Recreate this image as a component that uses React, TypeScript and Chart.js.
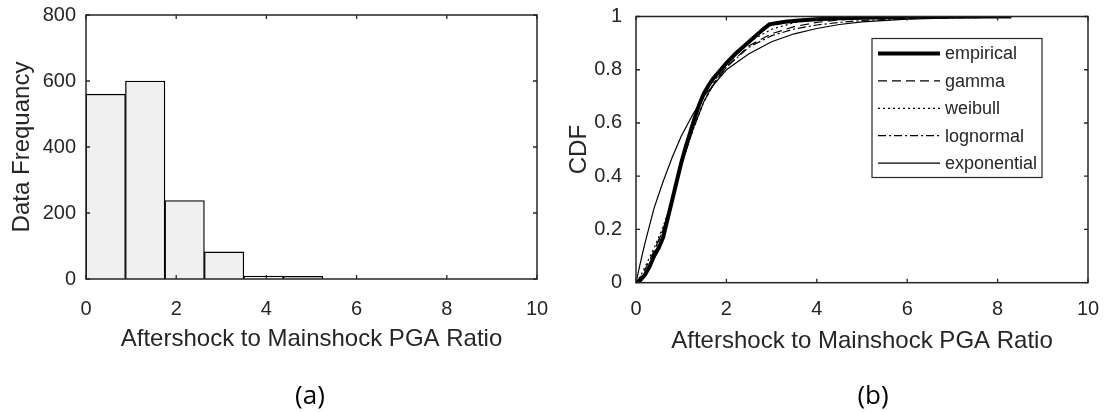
import React, { useEffect, useRef } from "react";
import { Chart, registerables } from "chart.js";

Chart.register(...registerables);

// ---------- data ----------
const binEdges = [0, 0.875, 1.75, 2.625, 3.5, 4.375, 5.25];
const binCounts = [560, 600, 238, 82, 9, 8];

const xTickValues = [0, 2, 4, 6, 8, 10];
const histYTickValues = [0, 200, 400, 600, 800];
const cdfYTickValues = [0, 0.2, 0.4, 0.6, 0.8, 1];

const empiricalX = [0, 0.1, 0.2, 0.3, 0.4, 0.5, 0.6, 0.7, 0.8, 0.9, 1.0, 1.1, 1.2, 1.3, 1.4, 1.5, 1.6, 1.7, 1.8, 2.0, 2.2, 2.4, 2.6, 2.8, 2.95, 3.1, 3.3, 3.6, 4.0, 4.5, 5.0, 5.5, 6.0, 6.3, 7.0, 8.3];
const empiricalY = [0, 0.01, 0.03, 0.06, 0.1, 0.13, 0.17, 0.24, 0.31, 0.38, 0.45, 0.51, 0.565, 0.62, 0.67, 0.71, 0.74, 0.765, 0.785, 0.825, 0.86, 0.89, 0.92, 0.95, 0.97, 0.975, 0.98, 0.985, 0.99, 0.993, 0.995, 0.997, 0.998, 1.0, 1.0, 1.0];

const fitX = [0, 0.1, 0.2, 0.4, 0.6, 0.8, 1.0, 1.25, 1.5, 1.75, 2.0, 2.5, 3.0, 3.5, 4.0, 4.5, 5.0, 6.0, 7.0, 8.3];
const gammaY = [0, 0.02, 0.05, 0.12, 0.2, 0.31, 0.44, 0.57, 0.68, 0.755, 0.81, 0.89, 0.935, 0.962, 0.978, 0.987, 0.993, 0.998, 0.999, 1.0];
const weibullY = [0, 0.025, 0.06, 0.13, 0.21, 0.31, 0.44, 0.57, 0.68, 0.76, 0.82, 0.905, 0.952, 0.977, 0.989, 0.995, 0.998, 1.0, 1.0, 1.0];
const lognormalY = [0, 0.005, 0.03, 0.11, 0.2, 0.31, 0.44, 0.57, 0.68, 0.755, 0.81, 0.885, 0.928, 0.953, 0.968, 0.978, 0.985, 0.992, 0.995, 0.998];
const exponentialY = [0, 0.077, 0.15, 0.28, 0.38, 0.47, 0.55, 0.63, 0.7, 0.75, 0.8, 0.86, 0.905, 0.935, 0.955, 0.97, 0.98, 0.99, 0.995, 0.998];

const seriesLabels = ["empirical", "gamma", "weibull", "lognormal", "exponential"];

const histXTitle = "Aftershock to Mainshock PGA Ratio";
const histYTitle = "Data Frequancy";
const cdfYTitle = "CDF";

// ---------- styles ----------
const TEXT = "#262626";
const FONT = "'Liberation Sans', Arial, Helvetica, sans-serif";

const boxPlugin = {
  id: "matlabBox",
  afterDatasetsDraw(chart: any) {
    const { ctx, chartArea: a, scales } = chart;
    const xs = scales.x;
    const ys = scales.y;
    ctx.save();
    ctx.strokeStyle = TEXT;
    ctx.lineWidth = 1.3;
    const tl = 4;
    ctx.beginPath();
    xs.ticks.forEach((t: any) => {
      const px = xs.getPixelForValue(t.value);
      ctx.moveTo(px, a.bottom);
      ctx.lineTo(px, a.bottom - tl);
      ctx.moveTo(px, a.top);
      ctx.lineTo(px, a.top + tl);
    });
    ys.ticks.forEach((t: any) => {
      const py = ys.getPixelForValue(t.value);
      ctx.moveTo(a.left, py);
      ctx.lineTo(a.left + tl, py);
      ctx.moveTo(a.right, py);
      ctx.lineTo(a.right - tl, py);
    });
    ctx.stroke();
    ctx.lineWidth = 1.5;
    ctx.strokeRect(a.left, a.top, a.right - a.left, a.bottom - a.top);
    ctx.restore();
  },
};

const legendPlugin = {
  id: "matlabLegend",
  afterDraw(chart: any) {
    const { ctx, chartArea: a } = chart;
    const boxW = 170;
    const boxH = 139;
    const left = a.right - 46 - boxW;
    const top = a.top + 22;
    ctx.save();
    ctx.fillStyle = "#ffffff";
    ctx.fillRect(left, top, boxW, boxH);
    ctx.strokeStyle = TEXT;
    ctx.lineWidth = 1.2;
    ctx.setLineDash([]);
    ctx.strokeRect(left, top, boxW, boxH);
    ctx.font = `18px ${FONT}`;
    ctx.textBaseline = "middle";
    ctx.textAlign = "left";
    chart.data.datasets.forEach((ds: any, i: number) => {
      const y = top + 15 + i * 27.4;
      ctx.strokeStyle = "#000";
      ctx.lineWidth = ds.borderWidth;
      ctx.setLineDash(ds.borderDash || []);
      ctx.beginPath();
      ctx.moveTo(left + 6, y);
      ctx.lineTo(left + 68, y);
      ctx.stroke();
      ctx.setLineDash([]);
      ctx.fillStyle = TEXT;
      ctx.fillText(ds.label, left + 73, y + 1);
    });
    ctx.restore();
  },
};

function xScale(bottomPad: number, titlePad: number, height: number) {
  return {
    type: "linear" as const,
    min: 0,
    max: 10,
    offset: false,
    afterBuildTicks: (s: any) => {
      s.ticks = xTickValues.map((v) => ({ value: v }));
    },
    afterFit: (s: any) => {
      s.height = height;
      s.paddingLeft = 0;
      s.paddingRight = 0;
    },
    grid: { display: false, drawTicks: false },
    border: { display: false },
    ticks: {
      padding: bottomPad,
      color: TEXT,
      font: { family: FONT, size: 20 },
      maxRotation: 0,
      autoSkip: false,
    },
    title: {
      display: true,
      text: histXTitle,
      color: TEXT,
      font: { family: FONT, size: 24 },
      padding: { top: 0, bottom: titlePad },
    },
  };
}

function yScale(min: number, max: number, tickValues: number[], width: number, tickPad: number, title: string, titlePad: number) {
  return {
    type: "linear" as const,
    min,
    max,
    afterBuildTicks: (s: any) => {
      s.ticks = tickValues.map((v) => ({ value: v }));
    },
    afterFit: (s: any) => {
      s.width = width;
      s.paddingTop = 0;
      s.paddingBottom = 0;
    },
    grid: { display: false, drawTicks: false },
    border: { display: false },
    ticks: {
      padding: tickPad,
      color: TEXT,
      font: { family: FONT, size: 20 },
      callback: (v: any) => String(Number(v)),
    },
    title: {
      display: true,
      text: title,
      color: TEXT,
      font: { family: FONT, size: 24 },
      padding: { top: titlePad, bottom: 0 },
    },
  };
}

function HistogramChart() {
  const ref = useRef<HTMLCanvasElement | null>(null);
  useEffect(() => {
    if (!ref.current) return;
    const centers = binCounts.map((_, i) => (binEdges[i] + binEdges[i + 1]) / 2);
    const chart = new Chart(ref.current, {
      type: "bar",
      data: {
        datasets: [
          {
            label: "count",
            data: centers.map((c, i) => ({ x: c, y: binCounts[i] })),
            backgroundColor: "#f0f0f0",
            borderColor: "#000000",
            borderWidth: 1.3,
            barPercentage: 1,
            categoryPercentage: 1,
          },
        ],
      },
      options: {
        animation: false,
        responsive: true,
        maintainAspectRatio: false,
        layout: { padding: { left: 0, right: 23, top: 15, bottom: 0 } },
        plugins: { legend: { display: false }, tooltip: { enabled: false } },
        scales: {
          x: xScale(18, 58, 133),
          y: yScale(0, 800, histYTickValues, 86, 10, histYTitle, 8),
        },
      },
      plugins: [boxPlugin],
    } as any);
    return () => chart.destroy();
  }, []);
  return <canvas ref={ref} />;
}

function CdfChart() {
  const ref = useRef<HTMLCanvasElement | null>(null);
  useEffect(() => {
    if (!ref.current) return;
    const zip = (xs: number[], ys: number[]) => xs.map((x, i) => ({ x, y: ys[i] }));
    const common = { showLine: true, pointRadius: 0, borderColor: "#000000", fill: false, tension: 0 };
    const chart = new Chart(ref.current, {
      type: "scatter",
      data: {
        datasets: [
          { ...common, label: seriesLabels[0], data: zip(empiricalX, empiricalY), borderWidth: 4 },
          { ...common, label: seriesLabels[1], data: zip(fitX, gammaY), borderWidth: 1.2, borderDash: [9, 5] },
          { ...common, label: seriesLabels[2], data: zip(fitX, weibullY), borderWidth: 1.2, borderDash: [2, 3] },
          { ...common, label: seriesLabels[3], data: zip(fitX, lognormalY), borderWidth: 1.2, borderDash: [8, 3, 2, 3] },
          { ...common, label: seriesLabels[4], data: zip(fitX, exponentialY), borderWidth: 1.2 },
        ],
      },
      options: {
        animation: false,
        responsive: true,
        maintainAspectRatio: false,
        layout: { padding: { left: 0, right: 17, top: 16.5, bottom: 0 } },
        plugins: { legend: { display: false }, tooltip: { enabled: false } },
        scales: {
          x: xScale(15, 56, 129.3),
          y: yScale(0, 1, cdfYTickValues, 76, 14, cdfYTitle, 5),
        },
      },
      plugins: [boxPlugin, legendPlugin],
    } as any);
    return () => chart.destroy();
  }, []);
  return <canvas ref={ref} />;
}

const captionStyle: React.CSSProperties = {
  position: "absolute",
  top: 376,
  width: 100,
  textAlign: "center",
  fontFamily: "'Open Sans', sans-serif",
  fontSize: 26,
  lineHeight: "36px",
  color: "#000",
};

export default function App() {
  return (
    <div style={{ position: "absolute", left: 0, top: 0, width: 1105, height: 412, background: "#fff", overflow: "hidden" }}>
      <div style={{ position: "absolute", left: 0, top: 0, width: 560, height: 412 }}>
        <HistogramChart />
      </div>
      <div style={{ position: "absolute", left: 560, top: 0, width: 545, height: 412 }}>
        <CdfChart />
      </div>
      <div style={{ ...captionStyle, left: 310 - 50 }}>(a)</div>
      <div style={{ ...captionStyle, left: 873 - 50 }}>(b)</div>
    </div>
  );
}
